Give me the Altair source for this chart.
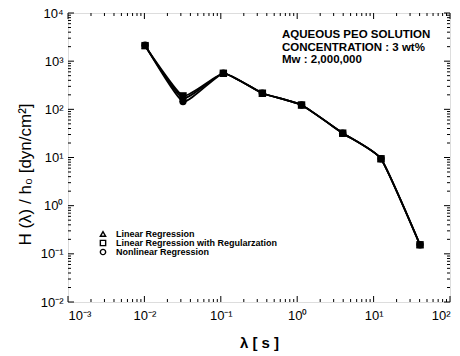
import altair as alt
import pandas as pd

# relaxation times (s)
lam = [0.0102, 0.032, 0.108, 0.35, 1.14, 3.94, 12.5, 40.5]
# H(lambda)/h0 in dyn/cm^2 for each fitting method
h_linear = [2100, 170, 560, 216, 123, 32, 9.4, 0.154]
h_regular = [2100, 190, 560, 216, 123, 32, 9.4, 0.154]
h_nonlinear = [2150, 145, 560, 216, 123, 32, 9.4, 0.154]

methods = ["Linear Regression", "Linear Regression with Regularzation", "Nonlinear Regression"]
shapes = ["triangle-up", "square", "circle"]

x_decades = [-3, -2, -1, 0, 1, 2]
y_decades = [-2, -1, 0, 1, 2, 3, 4]
sup = {"-": "\u207b", "0": "\u2070", "1": "\u00b9", "2": "\u00b2", "3": "\u00b3", "4": "\u2074"}

W, H = 382, 289

rows = []
for name, vals in zip(methods, [h_linear, h_regular, h_nonlinear]):
    for i, (l, v) in enumerate(zip(lam, vals)):
        rows.append({"method": name, "lam": l, "h": v, "idx": i})
df = pd.DataFrame(rows)


def sup_label_expr(decades):
    expr = "''"
    for d in reversed(decades):
        txt = "10" + "".join(sup[c] for c in str(d))
        expr = f"abs(log(datum.value)/LN10 - ({d})) < 0.01 ? '{txt}' : " + expr
    return expr


xscale = alt.Scale(type="log", domain=[1e-3, 1e2])
yscale = alt.Scale(type="log", domain=[1e-2, 1e4])
shape_scale = alt.Scale(domain=methods, range=shapes)

x_enc = alt.X("lam:Q", scale=xscale, axis=alt.Axis(
    values=[10.0 ** d for d in x_decades], labelExpr=sup_label_expr(x_decades),
    ticks=False, domain=False, grid=False, labelPadding=7,
    labelFont="Liberation Sans", labelFontSize=13, labelColor="black",
    title="\u03bb [ s ]", titleFont="Liberation Sans", titleFontSize=15,
    titleFontWeight="bold", titleColor="black", titleY=40, titleBaseline="middle"))
y_enc = alt.Y("h:Q", scale=yscale, axis=alt.Axis(
    values=[10.0 ** d for d in y_decades], labelExpr=sup_label_expr(y_decades),
    ticks=False, domain=False, grid=False, labelPadding=5,
    labelFont="Liberation Sans", labelFontSize=13, labelColor="black",
    title="H (\u03bb) / h\u2080   [dyn/cm\u00b2]", titleFont="Liberation Sans",
    titleFontSize=17, titleFontWeight="normal", titleColor="black",
    titleX=-43, titleY=161,
    titleAngle=-90, titleBaseline="middle", titleAlign="center"))

base = alt.Chart(df)

lines = base.mark_line(color="black", strokeWidth=1.8, interpolate="cardinal", tension=0.55).encode(
    x=x_enc, y=y_enc, detail="method:N", order="idx:Q")

pts = base.mark_point(filled=True, color="black", size=55, opacity=1).encode(
    x="lam:Q", y="h:Q", shape=alt.Shape("method:N", scale=shape_scale, legend=None))

# inward tick marks on all four sides
x_major = [10.0 ** d for d in x_decades]
x_minor = [m * 10.0 ** d for d in x_decades[:-1] for m in range(2, 10)]
y_major = [10.0 ** d for d in y_decades]
y_minor = [m * 10.0 ** d for d in y_decades[:-1] for m in range(2, 10)]


def xticks(vals, length):
    t = alt.Chart(pd.DataFrame({"v": vals}))
    bottom = t.mark_rule(color="black", strokeWidth=1).encode(
        x=alt.X("v:Q", scale=xscale), y=alt.value(H), y2=alt.value(H - length))
    top = t.mark_rule(color="black", strokeWidth=1).encode(
        x=alt.X("v:Q", scale=xscale), y=alt.value(0), y2=alt.value(length))
    return bottom + top


def yticks(vals, length):
    t = alt.Chart(pd.DataFrame({"v": vals}))
    left = t.mark_rule(color="black", strokeWidth=1).encode(
        y=alt.Y("v:Q", scale=yscale), x=alt.value(0), x2=alt.value(length))
    right = t.mark_rule(color="black", strokeWidth=1).encode(
        y=alt.Y("v:Q", scale=yscale), x=alt.value(W), x2=alt.value(W - length))
    return left + right


# key: open symbols with method names, lower-left of the plot
key_layers = []
for k, (name, shp) in enumerate(zip(methods, shapes)):
    row = alt.Chart(pd.DataFrame({"method": [name]}))
    key_layers.append(row.mark_point(shape=shp, filled=False, color="black", size=28,
                                     strokeWidth=1.4, opacity=1).encode(
        x=alt.value(35), y=alt.value(221 + 9 * k)))
    key_layers.append(row.mark_text(align="left", baseline="middle", font="Liberation Sans",
                                    fontSize=9, fontWeight="bold", color="black").encode(
        text="method:N", x=alt.value(48), y=alt.value(221 + 9 * k)))

note = alt.Chart(pd.DataFrame({"t": ["AQUEOUS PEO SOLUTION\nCONCENTRATION : 3 wt%\nMw : 2,000,000"]})).mark_text(
    align="left", baseline="top", font="Liberation Sans", fontSize=11.5, fontWeight="bold",
    lineHeight=12.5, color="black", lineBreak="\n").encode(
    text="t:N", x=alt.value(214), y=alt.value(16))

chart = alt.layer(
    lines, pts,
    xticks(x_major, 6), xticks(x_minor, 3),
    yticks(y_major, 6), yticks(y_minor, 3),
    note, *key_layers,
).properties(
    width=W, height=H,
    autosize=alt.AutoSizeParams(type="none"),
    padding={"left": 68, "top": 13, "right": 10, "bottom": 54},
).configure_view(stroke="black", strokeWidth=1.5).configure(background="white")

chart.save("out.html", embed_options={"renderer": "svg", "actions": False})
